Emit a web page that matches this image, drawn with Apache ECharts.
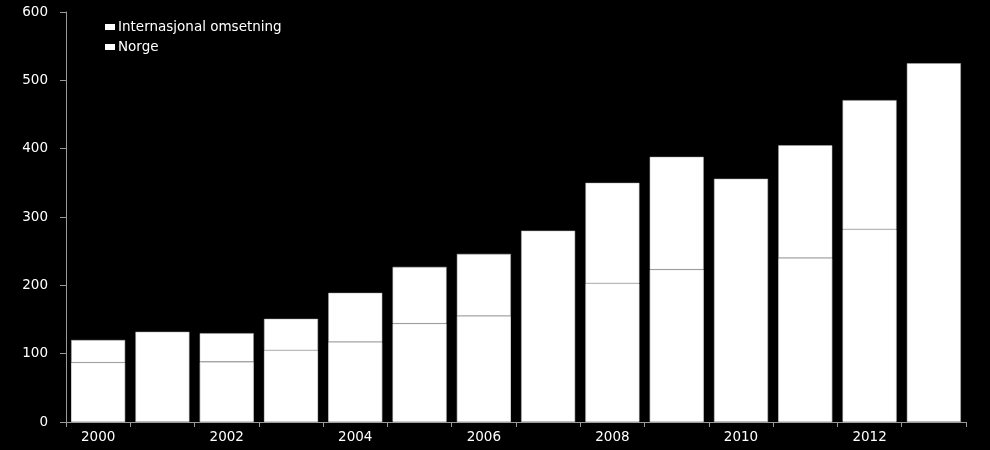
<!DOCTYPE html>
<html>
<head>
<meta charset="utf-8">
<script src="https://cdn.jsdelivr.net/npm/echarts@6/dist/echarts.min.js"></script>
<style>html,body{margin:0;padding:0;background:#000;}#c{width:990px;height:450px;}</style>
</head>
<body>
<div id="c"></div>
<script>
var years = ['2000','2001','2002','2003','2004','2005','2006','2007','2008','2009','2010','2011','2012','2013'];
var norge = [87, null, 88, 105, 117, 144, 155, null, 203, 223, null, 240, 282, null];
var internasjonal = [33, 132, 42, 46, 72, 83, 91, 280, 147, 165, 356, 165, 189, 525];
var yTicks = [0, 100, 200, 300, 400, 500, 600];

var chart = echarts.init(document.getElementById('c'));
var txt = {color:'#fff', fontFamily:'DejaVu Sans', fontSize:13.5};
chart.setOption({
  backgroundColor:'#000',
  animation:false,
  grid:{left:66, right:24, top:12, bottom:28},
  legend:{
    orient:'vertical', left:100, top:15, itemWidth:10, itemHeight:6, itemGap:6,
    icon:'rect',
    itemStyle:{borderWidth:0},
    data:['Internasjonal omsetning','Norge'],
    textStyle:Object.assign({padding:[0,0,0,-2]}, txt)
  },
  xAxis:{
    type:'category', data:years,
    axisLine:{lineStyle:{color:'#999'}},
    axisTick:{show:true, alignWithLabel:false, interval:0, length:5, lineStyle:{color:'#999'}},
    axisLabel:Object.assign({interval:1, margin:8}, txt)
  },
  yAxis:{
    type:'value', min:yTicks[0], max:yTicks[yTicks.length-1], interval:100,
    splitLine:{show:false},
    axisLine:{show:true, lineStyle:{color:'#999'}},
    axisTick:{show:true, length:6, lineStyle:{color:'#999'}},
    axisLabel:Object.assign({margin:18}, txt)
  },
  series:[
    {name:'Norge', type:'bar', stack:'t', z:4, data:norge, barCategoryGap:'16%',
      itemStyle:{color:'#fff', borderColor:'#e8e8e8', borderWidth:0.8}},
    {name:'Internasjonal omsetning', type:'bar', stack:'t', z:2, data:internasjonal, barCategoryGap:'16%',
      itemStyle:{color:'#fff', borderColor:'#b0b0b0', borderWidth:0.5}}
  ]
});
</script>
</body>
</html>
